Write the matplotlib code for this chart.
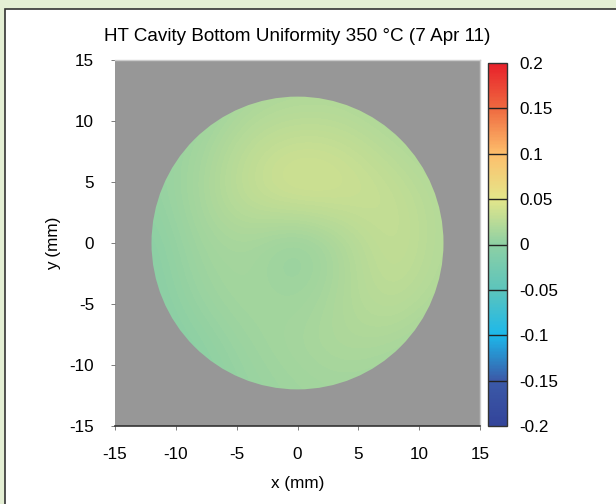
import numpy as np
import matplotlib.pyplot as plt
from matplotlib.colors import LinearSegmentedColormap
from matplotlib.patches import Circle, Rectangle

plt.rcParams['font.family'] = ['Liberation Sans', 'DejaVu Sans']
plt.rcParams['font.size'] = 12.3

# Sample grid (mm) and deviation values
x_pts = [-12, -8, -4, 0, 4, 8, 12]
y_pts = [-12, -8, -4, 0, 4, 8, 12]
values = [
    [-0.006, -0.004, 0.006, 0.010, 0.012, 0.008, 0.005],   # y = -12
    [-0.006, 0.000, 0.010, 0.015, 0.020, 0.018, 0.010],    # y = -8
    [-0.005, 0.008, 0.015, 0.008, 0.020, 0.030, 0.018],    # y = -4
    [-0.004, 0.012, 0.015, 0.000, 0.018, 0.035, 0.020],    # y = 0
    [0.002, 0.015, 0.032, 0.042, 0.038, 0.032, 0.020],     # y = 4
    [0.003, 0.012, 0.028, 0.035, 0.032, 0.022, 0.015],     # y = 8
    [0.000, 0.005, 0.015, 0.018, 0.018, 0.012, 0.010],     # y = 12
]
radius = 12
cbar_ticks = [-0.2, -0.15, -0.1, -0.05, 0, 0.05, 0.1, 0.15, 0.2]
tick_vals = [-15, -10, -5, 0, 5, 10, 15]

cmap = LinearSegmentedColormap.from_list('dev', [
    (0.000, '#33449a'), (0.125, '#3b5aa8'), (0.25, '#1cb8ea'),
    (0.375, '#5cc4bc'), (0.5, '#8ed0a4'), (0.625, '#e4e68a'),
    (0.75, '#fdbf6c'), (0.875, '#ef6a40'), (1.0, '#e8202a')])

fig = plt.figure(figsize=(6.16, 5.04), dpi=100, facecolor='#e4efd4')
fig.patches.append(Rectangle((5 / 616, -0.1), 1.2, 1 - 9 / 504 + 0.1,
                             transform=fig.transFigure, facecolor='white',
                             edgecolor='#333333', linewidth=1.2, zorder=-1))

ax = fig.add_axes([115 / 616, 1 - 426 / 504, 365 / 616, 366 / 504])
ax.set_facecolor('#979797')
dx = (x_pts[1] - x_pts[0]) / 2
im = ax.imshow(np.array(values), origin='lower', cmap=cmap, vmin=-0.2, vmax=0.2,
               interpolation='bicubic',
               extent=[x_pts[0] - dx, x_pts[-1] + dx, y_pts[0] - dx, y_pts[-1] + dx])
disk = Circle((0, 0), radius, transform=ax.transData)
im.set_clip_path(disk)
ax.set_xlim(-15, 15)
ax.set_ylim(-15, 15)
ax.set_aspect('auto')
ax.set_xticks(tick_vals)
ax.set_yticks(tick_vals)
ax.set_xticklabels([str(t) for t in tick_vals])
ax.set_yticklabels([str(t) for t in tick_vals])
ax.spines['left'].set_visible(False)
for s in ['top', 'right']:
    ax.spines[s].set_color('#cccccc')
    ax.spines[s].set_linewidth(1.0)
ax.spines['bottom'].set_color('#333333')
ax.spines['bottom'].set_linewidth(1.2)
ax.tick_params(length=3, width=0.6, color='#666666', pad=12)
ax.set_xlabel('x (mm)', labelpad=10)
ax.set_ylabel('y (mm)', labelpad=6)
ax.set_title('HT Cavity Bottom Uniformity 350 °C (7 Apr 11)', pad=14, fontsize=13.6)

cax = fig.add_axes([488 / 616, 1 - 426 / 504, 19 / 616, 363 / 504])
cb = fig.colorbar(im, cax=cax, ticks=cbar_ticks)
cb.ax.set_yticklabels(['-0.2', '-0.15', '-0.1', '-0.05', '0', '0.05', '0.1', '0.15', '0.2'])
cb.ax.tick_params(which='both', length=0, width=0, pad=9)
cb.outline.set_edgecolor('#333333')
cb.outline.set_linewidth(1.0)
for t in cbar_ticks[1:-1]:
    cb.ax.axhline(t, color='#222222', linewidth=1.0)

fig.savefig('out.png', dpi=100, facecolor=fig.get_facecolor())
